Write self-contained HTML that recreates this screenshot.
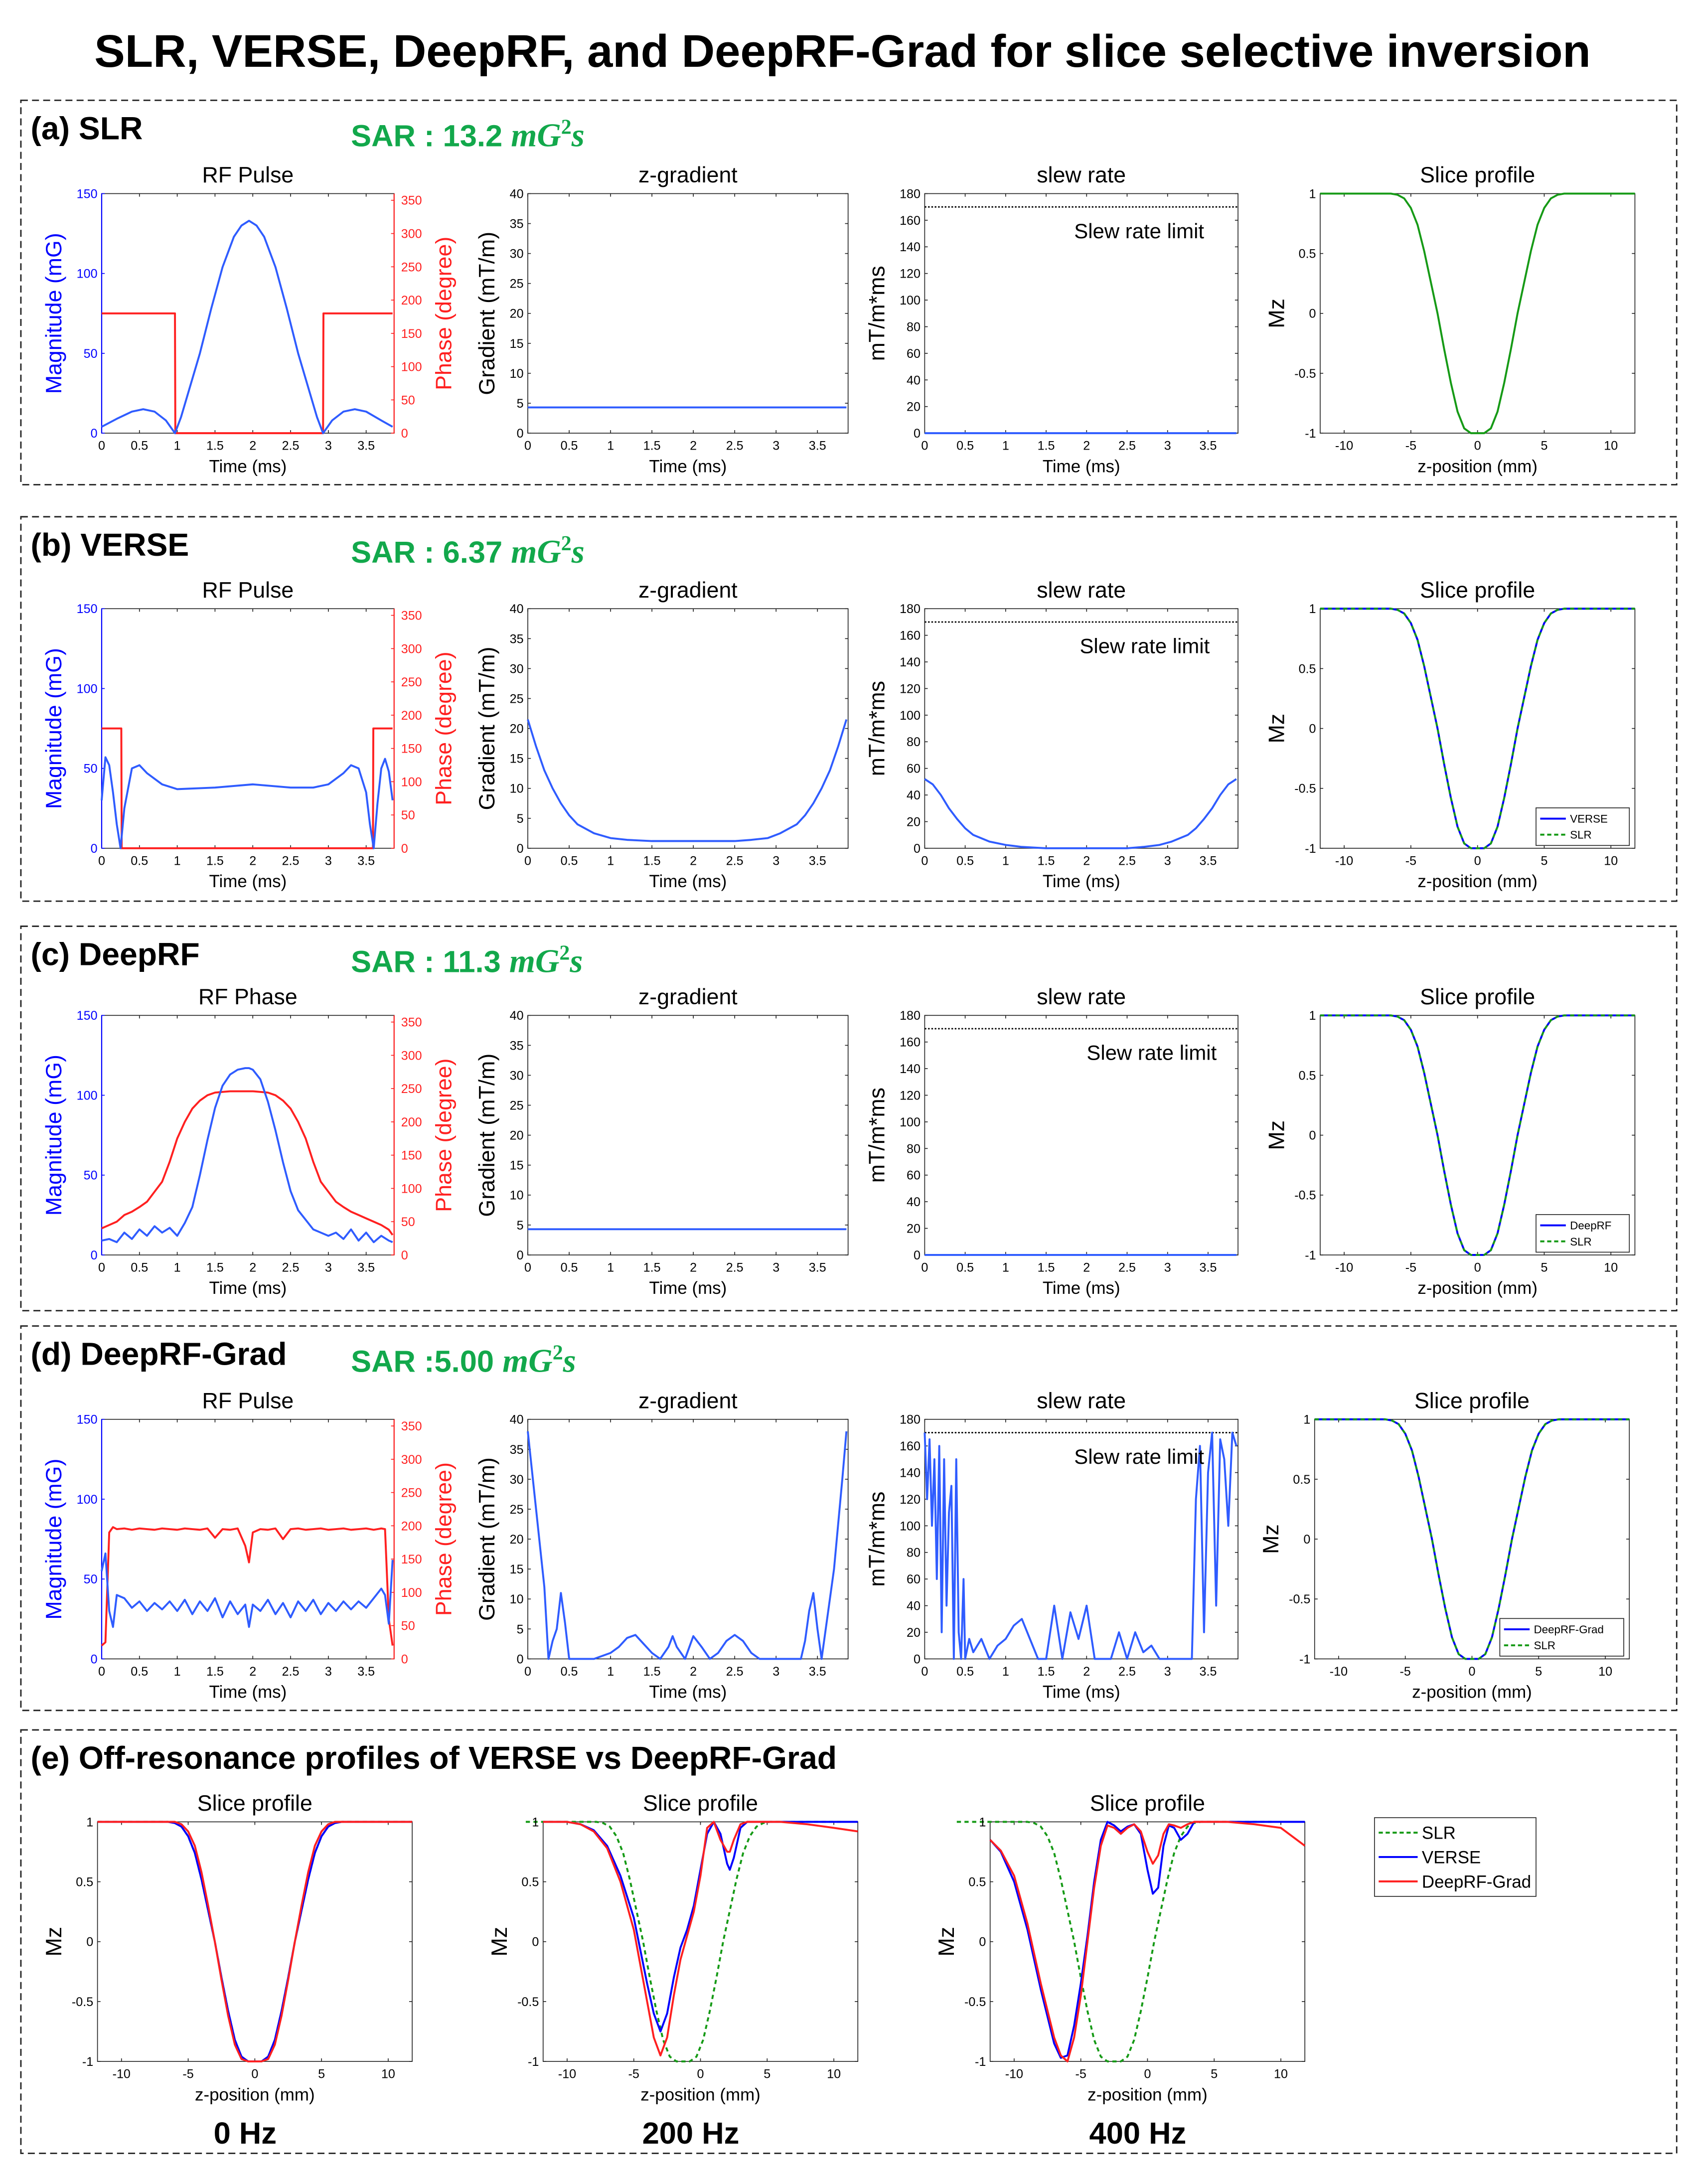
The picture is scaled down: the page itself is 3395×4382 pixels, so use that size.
<!DOCTYPE html>
<html><head><meta charset="utf-8"><style>
html,body{margin:0;padding:0;background:#fff}
svg{display:block}
text{font-family:"Liberation Sans",Arial,sans-serif}
</style></head><body>
<svg id="fig" xmlns="http://www.w3.org/2000/svg" width="3395" height="4382" viewBox="0 0 1215 1568" preserveAspectRatio="none">
<rect x="0" y="0" width="1215" height="1568" fill="#fff"/>
</svg>
<script>
// ===== data =====
const slrT = [0,0.2,0.4,0.55,0.7,0.85,0.97,1.05,1.15,1.3,1.45,1.6,1.75,1.85,1.95,2.05,2.15,2.3,2.45,2.6,2.75,2.85,2.93,3.05,3.2,3.35,3.5,3.7,3.85];
const slrMag = [4,9,13.5,15,13.5,8,0,10,26,50,78,104,123,130,133,130,123,104,78,50,26,10,0,8,13.5,15,13.5,8,4];
const slrPhT = [0,0.97,0.975,2.93,2.935,3.85];
const slrPh = [180,180,0,0,180,180];
const constGradT = [0,3.85];
const constGrad = [4.3,4.3];
const zeroSlew = [0,0];
const slewLimit = 170;

const verseT = [0,0.05,0.1,0.15,0.2,0.25,0.3,0.4,0.5,0.6,0.8,1.0,1.5,2.0,2.5,2.8,3.0,3.2,3.3,3.4,3.5,3.55,3.6,3.65,3.7,3.75,3.8,3.85];
const verseMag = [30,57,52,35,15,0,25,50,52,47,40,37,38,40,38,38,40,47,52,50,35,15,0,28,50,56,48,30];
const versePhT = [0,0.26,0.265,3.59,3.595,3.85];
const versePh = [180,180,0,0,180,180];
const verseGT = [0,0.1,0.2,0.3,0.4,0.5,0.6,0.8,1.0,1.2,1.5,2.0,2.5,2.7,2.9,3.05,3.25,3.35,3.45,3.55,3.65,3.75,3.85];
const verseGrad = [21.5,17,13,10,7.5,5.5,4,2.5,1.7,1.4,1.2,1.2,1.2,1.4,1.7,2.5,4,5.5,7.5,10,13,17,21.5];
const verseSlew = [52,48,40,30,22,15,10,5,2.5,1,0,0,0,1,2.5,5,10,15,22,30,40,48,52];

const deepT = [0,0.1,0.2,0.3,0.4,0.5,0.6,0.7,0.8,0.9,1.0,1.1,1.2,1.3,1.4,1.5,1.6,1.7,1.8,1.9,1.95,2.0,2.1,2.2,2.3,2.4,2.5,2.6,2.7,2.8,2.9,3.0,3.1,3.2,3.3,3.4,3.5,3.6,3.7,3.8,3.85];
const deepMag = [9,10,8,14,10,16,12,18,14,17,12,20,30,50,72,92,106,113,116,117,117,116,110,96,78,58,40,28,22,16,14,12,14,10,16,9,14,8,12,9,8];
const deepPh = [40,45,50,60,65,72,80,95,110,140,175,200,220,232,240,244,245,246,246,246,246,246,245,244,240,232,220,200,175,140,110,95,80,72,65,60,55,50,45,38,30];

const gradT = [0,0.05,0.1,0.15,0.2,0.3,0.4,0.5,0.6,0.7,0.8,0.9,1.0,1.1,1.2,1.3,1.4,1.5,1.6,1.7,1.8,1.9,1.95,2.0,2.1,2.2,2.3,2.4,2.5,2.6,2.7,2.8,2.9,3.0,3.1,3.2,3.3,3.4,3.5,3.6,3.7,3.75,3.8,3.85];
const gradMag = [55,66,30,20,40,38,32,36,30,35,31,36,30,37,28,36,30,38,26,36,28,34,20,34,30,37,28,35,26,36,30,37,28,35,30,36,31,36,32,38,44,40,22,62];
const gradPh = [20,25,190,198,195,196,194,196,195,194,196,195,194,196,195,194,196,182,195,194,196,170,145,190,195,194,196,180,195,196,194,195,196,194,195,196,194,195,196,194,196,195,60,20];
const gradGT = [0,0.1,0.2,0.25,0.3,0.35,0.4,0.45,0.5,0.6,0.8,1.0,1.1,1.2,1.3,1.4,1.5,1.6,1.7,1.75,1.8,1.9,2.0,2.1,2.2,2.3,2.4,2.5,2.6,2.7,2.8,3.0,3.2,3.3,3.35,3.4,3.45,3.5,3.55,3.6,3.7,3.8,3.85];
const gradGrad = [38,25,12,0,3,5,11,6,0,0,0,1,2,3.5,4,2.5,1,0,2,3.8,2,0,3.8,2,0,1,3,4,3,1,0,0,0,0,3,8,11,5,0,5,15,30,38];
const gradST = [0,0.03,0.06,0.09,0.12,0.15,0.18,0.21,0.24,0.27,0.3,0.33,0.36,0.39,0.42,0.45,0.48,0.5,0.55,0.6,0.7,0.8,0.9,1.0,1.1,1.2,1.3,1.4,1.5,1.6,1.7,1.8,1.9,2.0,2.1,2.2,2.3,2.4,2.5,2.6,2.7,2.8,2.9,3.0,3.1,3.2,3.3,3.35,3.4,3.45,3.5,3.55,3.6,3.65,3.7,3.75,3.8,3.85];
const gradSlew = [170,120,165,100,150,60,160,20,150,40,110,130,0,150,20,0,60,0,15,5,15,0,10,15,25,30,15,0,0,40,0,35,15,40,0,0,0,20,0,20,5,10,0,0,0,0,0,120,160,20,140,170,40,165,150,100,170,160];

const profZ = [-11.8,-6.5,-6,-5.5,-5,-4.5,-4,-3.5,-3,-2.5,-2,-1.5,-1,-0.5,0,0.5,1,1.5,2,2.5,3,3.5,4,4.5,5,5.5,6,6.5,11.8];
const slrProf = [1,1,0.99,0.96,0.88,0.74,0.52,0.26,0,-0.3,-0.58,-0.82,-0.96,-1,-1,-1,-0.96,-0.82,-0.58,-0.3,0,0.26,0.52,0.74,0.88,0.96,0.99,1,1];
const redProf0 = [1,1,1,0.98,0.92,0.8,0.58,0.3,0,-0.32,-0.62,-0.86,-0.98,-1,-1,-1,-0.98,-0.86,-0.62,-0.32,0,0.3,0.58,0.8,0.92,0.98,1,1,1];
const slrShift = [0,-1.3,-2.5];

const z200 = [-11.8,-10,-9,-8,-7,-6,-5,-4,-3.5,-3,-2.5,-2,-1.5,-1,-0.5,0,0.5,1,1.5,2,2.2,2.5,3,3.5,4,6,8,10,11.8];
const blue200 = [1,1,0.98,0.93,0.8,0.55,0.2,-0.35,-0.6,-0.75,-0.6,-0.3,-0.05,0.1,0.3,0.6,0.9,1,0.9,0.65,0.6,0.7,0.95,1,1,1,1,1,1];
const red200 = [1,1,0.98,0.92,0.78,0.5,0.1,-0.5,-0.8,-0.95,-0.8,-0.45,-0.15,0.05,0.25,0.55,0.95,1,0.85,0.75,0.75,0.85,0.98,1,1,1,0.98,0.95,0.92];
const z400 = [-11.8,-11,-10,-9,-8,-7,-6.5,-6,-5.5,-5,-4.5,-4,-3.5,-3,-2.5,-2,-1.5,-1,-0.5,0,0.4,0.8,1.2,1.6,2,2.5,3,3.5,4,6,8,10,11.8];
const blue400 = [0.85,0.75,0.5,0.1,-0.4,-0.85,-0.97,-0.95,-0.7,-0.35,0.05,0.5,0.85,1,0.97,0.92,0.96,0.98,0.9,0.6,0.4,0.45,0.8,0.97,0.95,0.85,0.9,1,1,1,1,1,1];
const red400 = [0.85,0.76,0.55,0.15,-0.35,-0.8,-0.95,-1,-0.8,-0.45,0,0.45,0.8,0.97,0.95,0.9,0.95,0.98,0.92,0.75,0.65,0.72,0.9,0.98,0.97,0.95,0.98,1,1,1,0.98,0.95,0.8];

const timeTicks = [0,0.5,1,1.5,2,2.5,3,3.5];
const timeTickLabels = ["0","0.5","1","1.5","2","2.5","3","3.5"];
const magTicks = [0,50,100,150];
const phaseTicks = [0,50,100,150,200,250,300,350];
const gradTicks = [0,5,10,15,20,25,30,35,40];
const slewTicks = [0,20,40,60,80,100,120,140,160,180];
const zTicks = [-10,-5,0,5,10];
const mzTicks = [-1,-0.5,0,0.5,1];
const mzTickLabels = ["-1","-0.5","0","0.5","1"];

// ===== drawing =====
const svg = document.getElementById('fig');
const NS = 'http://www.w3.org/2000/svg';
const BLUE = '#2f5cff', RED = '#ff2020', GREEN = '#169a16', PBLUE = '#0000ff';

function mk(tag, attrs, parent){
  const e = document.createElementNS(NS, tag);
  for (const k in attrs) e.setAttribute(k, attrs[k]);
  (parent||svg).appendChild(e);
  return e;
}
function txt(s, x, y, size, opts, name){
  opts = opts||{};
  const e = mk('text', {x:x, y:y, 'font-size':size, fill:opts.fill||'#000', 'text-anchor':opts.anchor||'middle'});
  if (opts.bold) e.setAttribute('font-weight','bold');
  if (opts.rot) e.setAttribute('transform','rotate(-90 '+x+' '+y+')');
  e.textContent = s;
  
  
  return e;
}
function makeAxes(o){
  const a = o;
  a.sx = v => a.x + (v-a.xmin)/(a.xmax-a.xmin)*a.w;
  a.sy = v => a.y + a.h - (v-a.ymin)/(a.ymax-a.ymin)*a.h;
  a.sy2 = v => a.y + a.h - (v-a.y2min)/(a.y2max-a.y2min)*a.h;
  const g = mk('g', {});
  
  
  a.g = g;
  mk('rect', {x:a.x, y:a.y, width:a.w, height:a.h, fill:'#fff', stroke:'#262626', 'stroke-width':0.6}, g);
  const tl = 2.2;
  a.xticks.forEach((v,i)=>{
    const X = a.sx(v);
    mk('line',{x1:X,y1:a.y+a.h,x2:X,y2:a.y+a.h-tl,stroke:'#262626','stroke-width':0.6},g);
    mk('line',{x1:X,y1:a.y,x2:X,y2:a.y+tl,stroke:'#262626','stroke-width':0.6},g);
    txt(a.xlabels[i], X, a.y+a.h+12, 9, {}, 'x-tick-label');
  });
  a.yticks.forEach((v,i)=>{
    const Y = a.sy(v);
    mk('line',{x1:a.x,y1:Y,x2:a.x+tl,y2:Y,stroke:a.ycolor||'#262626','stroke-width':0.6},g);
    if(!a.y2ticks) mk('line',{x1:a.x+a.w,y1:Y,x2:a.x+a.w-tl,y2:Y,stroke:'#262626','stroke-width':0.6},g);
    txt(a.ylabels[i], a.x-3, Y+3.2, 9, {anchor:'end', fill:a.ycolor||'#000'}, 'y-tick-label');
  });
  if (a.ycolor) mk('line',{x1:a.x,y1:a.y,x2:a.x,y2:a.y+a.h,stroke:a.ycolor,'stroke-width':0.8},g);
  if (a.y2ticks){
    mk('line',{x1:a.x+a.w,y1:a.y,x2:a.x+a.w,y2:a.y+a.h,stroke:RED,'stroke-width':0.8},g);
    a.y2ticks.forEach(v=>{
      const Y = a.sy2(v);
      mk('line',{x1:a.x+a.w,y1:Y,x2:a.x+a.w-tl,y2:Y,stroke:RED,'stroke-width':0.6},g);
      txt(String(v), a.x+a.w+5, Y+3.2, 9, {anchor:'start', fill:RED}, 'right-y-tick-label');
    });
    txt(a.y2title, a.x+a.w+41, a.y+a.h/2, 16, {rot:true, fill:RED}, 'right-y-axis-title');
  }
  txt(a.xtitle, a.x+a.w/2, a.y+a.h+28, 12.5, {}, 'x-axis-title');
  txt(a.ytitle, a.x-a.ytoff, a.y+a.h/2, 16, {rot:true, fill:a.ycolor||'#000'}, 'y-axis-title');
  txt(a.title, a.x+a.w/2, a.y-8, 16, {}, 'subplot-title');
  return a;
}
function plot(a, xs, ys, color, name, opts){
  opts = opts||{};
  const fy = opts.right ? a.sy2 : a.sy;
  const pts = xs.map((x,i)=> a.sx(x).toFixed(2)+','+fy(ys[i]).toFixed(2)).join(' ');
  const p = mk('polyline',{points:pts, fill:'none', stroke:color, 'stroke-width':opts.w||1.4, 'stroke-linejoin':'round'}, a.g);
  if (opts.dash) p.setAttribute('stroke-dasharray', opts.dash);
  
  
  return p;
}
function shiftZ(zs, s){ return zs.map(z=>z+s); }

function panelBox(y, h, label, sar, name){
  const r = mk('rect',{x:15,y:y,width:1189,height:h,fill:'none',stroke:'#222','stroke-width':1,'stroke-dasharray':'5,3'});
  
  
  txt(label, 22, y+28, 23, {anchor:'start', bold:true}, 'panel-label');
  if (sar){
    const t = mk('text',{x:252,y:y+33,'font-size':22,'font-weight':'bold',fill:'#12a84b'});
    
    
    const s1 = mk('tspan',{},t); s1.textContent = sar[0];
    const s2 = mk('tspan',{'font-family':'Liberation Serif, serif','font-style':'italic','font-size':24},t); s2.textContent = 'mG';
    const s3 = mk('tspan',{'font-family':'Liberation Serif, serif','font-size':15,dy:-9},t); s3.textContent = '2';
    const s4 = mk('tspan',{'font-family':'Liberation Serif, serif','font-style':'italic','font-size':24,dy:9},t); s4.textContent = 's';
  }
}
function legend(x, y, w, entries, fs, rowh){
  const g = mk('g',{});
  
  
  mk('rect',{x:x,y:y,width:w,height:entries.length*rowh+4,fill:'#fff',stroke:'#262626','stroke-width':0.6},g);
  entries.forEach((e,i)=>{
    const Y = y+2+rowh*(i+0.5);
    const l = mk('line',{x1:x+3,y1:Y,x2:x+3+rowh*1.6,y2:Y,stroke:e[1],'stroke-width':1.4},g);
    if (e[2]) l.setAttribute('stroke-dasharray', e[2]);
    const t = mk('text',{x:x+6+rowh*1.6,y:Y+fs*0.36,'font-size':fs},g);
    t.textContent = e[0];
    
    
  });
}

txt('SLR, VERSE, DeepRF, and DeepRF-Grad for slice selective inversion', 605, 48, 33, {bold:true}, 'figure-title');

const rows = [
  {y:139, box:72, label:'(a) SLR', sar:'SAR : 13.2 ', title:'RF Pulse'},
  {y:437, box:371, label:'(b) VERSE', sar:'SAR : 6.37 ', title:'RF Pulse'},
  {y:729, box:665, label:'(c) DeepRF', sar:'SAR : 11.3 ', title:'RF Phase'},
  {y:1019, box:952, label:'(d) DeepRF-Grad', sar:'SAR :5.00 ', title:'RF Pulse'}
];
const rfData = [[slrT,slrMag,slrPhT,slrPh],[verseT,verseMag,versePhT,versePh],[deepT,deepMag,deepT,deepPh],[gradT,gradMag,gradT,gradPh]];
const gData = [[constGradT,constGrad,constGradT,zeroSlew],[verseGT,verseGrad,verseGT,verseSlew],[constGradT,constGrad,constGradT,zeroSlew],[gradGT,gradGrad,gradST,gradSlew]];
const legNames = [null,'VERSE','DeepRF','DeepRF-Grad'];
const mzLab = mzTickLabels;

rows.forEach((r,i)=>{
  panelBox(r.box, 276, r.label, [r.sar], 'panel-'+'abcd'[i]);
  const H = 172;
  const rf = makeAxes({name:'rf-pulse-axes', x:73,y:r.y,w:210,h:H,xmin:0,xmax:3.87,ymin:0,ymax:150,y2min:0,y2max:360,
    xticks:timeTicks,xlabels:timeTickLabels,yticks:magTicks,ylabels:magTicks.map(String),y2ticks:phaseTicks,
    xtitle:'Time (ms)',ytitle:'Magnitude (mG)',ytoff:29,ycolor:PBLUE,y2title:'Phase (degree)',title:r.title});
  const d = rfData[i];
  plot(rf, d[2], d[3], RED, 'phase-line', {right:true});
  plot(rf, d[0], d[1], BLUE, 'magnitude-line');
  const gz = makeAxes({name:'z-gradient-axes', x:379,y:r.y,w:230,h:H,xmin:0,xmax:3.87,ymin:0,ymax:40,
    xticks:timeTicks,xlabels:timeTickLabels,yticks:gradTicks,ylabels:gradTicks.map(String),
    xtitle:'Time (ms)',ytitle:'Gradient (mT/m)',ytoff:24,title:'z-gradient'});
  plot(gz, gData[i][0], gData[i][1], BLUE, 'gradient-line');
  const sl = makeAxes({name:'slew-rate-axes', x:664,y:r.y,w:225,h:H,xmin:0,xmax:3.87,ymin:0,ymax:180,
    xticks:timeTicks,xlabels:timeTickLabels,yticks:slewTicks,ylabels:slewTicks.map(String),
    xtitle:'Time (ms)',ytitle:'mT/m*ms',ytoff:29,title:'slew rate'});
  plot(sl, [0,3.87], [slewLimit,slewLimit], '#000', 'slew-rate-limit-line', {dash:'1.2,1.2', w:1});
  txt('Slew rate limit', [818,822,827,818][i], r.y+32, 15, {}, 'slew-limit-label');
  plot(sl, gData[i][2], gData[i][3], BLUE, 'slew-line');
  const px = i===3 ? 944 : 948;
  const sp = makeAxes({name:'slice-profile-axes', x:px,y:r.y,w:226,h:H,xmin:-11.8,xmax:11.8,ymin:-1,ymax:1,
    xticks:zTicks,xlabels:zTicks.map(String),yticks:mzTicks,ylabels:mzLab,
    xtitle:'z-position (mm)',ytitle:'Mz',ytoff:26,title:'Slice profile'});
  if (i===0){
    plot(sp, profZ, slrProf, GREEN, 'slr-profile-line');
  } else {
    plot(sp, profZ, slrProf, PBLUE, 'profile-line');
    plot(sp, profZ, slrProf, GREEN, 'slr-profile-line', {dash:'3,2.5'});
    const lw = i===3 ? 89 : 67;
    legend(px+226-lw-4, r.y+H-29, lw, [[legNames[i], PBLUE], ['SLR', GREEN, '3,2']], 8, 11.5);
  }
});

// ===== panel e =====
panelBox(1242, 304, '(e) Off-resonance profiles of VERSE vs DeepRF-Grad', null, 'panel-e');
const eX = [70, 390, 711];
const eBlue = [[profZ, slrProf],[z200, blue200],[z400, blue400]];
const eRed = [[profZ, redProf0],[z200, red200],[z400, red400]];
const eLabels = ['0 Hz','200 Hz','400 Hz'];
eX.forEach((x,i)=>{
  const a = makeAxes({name:'off-resonance-axes', x:x,y:1308,w:226,h:172,xmin:-11.8,xmax:11.8,ymin:-1,ymax:1,
    xticks:zTicks,xlabels:zTicks.map(String),yticks:mzTicks,ylabels:mzLab,
    xtitle:'z-position (mm)',ytitle:'Mz',ytoff:26,title:'Slice profile'});
  plot(a, shiftZ(profZ, slrShift[i]), slrProf, GREEN, 'slr-profile-line', {dash:'3,2.5'});
  plot(a, eBlue[i][0], eBlue[i][1], PBLUE, 'verse-profile-line');
  plot(a, eRed[i][0], eRed[i][1], RED, 'deeprf-grad-profile-line');
  txt(eLabels[i], x+106, 1539, 22, {bold:true}, 'frequency-label');
});
legend(987, 1305, 116, [['SLR', GREEN, '3,2'], ['VERSE', PBLUE], ['DeepRF-Grad', RED]], 12.5, 17.5);
</script>
</body></html>
